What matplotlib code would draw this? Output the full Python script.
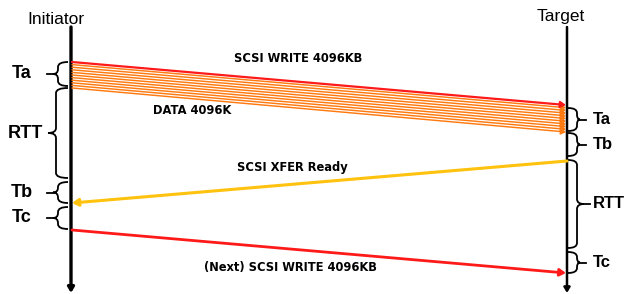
import numpy as np
import matplotlib.pyplot as plt
from matplotlib.path import Path
from matplotlib.patches import PathPatch

# timeline positions are in pixel units of the 625x294 picture (y grows downward)
lanes = ["Initiator", "Target"]
lane_x = [71, 567]

# burst of write + data frames: initiator y -> target y
burst_start = [62.0, 64.6, 67.2, 69.8, 72.4, 75.0, 77.6, 80.2, 82.8, 85.4, 88.0]
burst_end = [105.0, 107.7, 110.4, 113.1, 115.8, 118.5, 121.2, 123.9, 126.6, 129.3, 132.0]

# single messages: (label, from lane, y_from, to lane, y_to)
msg_labels = ["SCSI XFER Ready", "(Next) SCSI WRITE 4096KB"]
msg_from_y = [161, 230]
msg_to_y = [203, 273]
msg_colors = ["#FFC20E", "#FF1A1A"]

# interval braces on each side (label, y0, y1)
left_spans = [("Ta", 62, 86), ("RTT", 88, 178), ("Tb", 182, 203), ("Tc", 207, 229)]
right_spans = [("Ta", 108, 131), ("Tb", 133, 156), ("RTT", 160, 248), ("Tc", 252, 273)]

fig = plt.figure(figsize=(6.25, 2.94), dpi=100)
ax = fig.add_axes([0, 0, 1, 1])
ax.set_xlim(0, 625)
ax.set_ylim(294, 0)
ax.axis("off")


def arrow(x0, y0, x1, y1, color, lw, head=0.35):
    ax.annotate("", xy=(x1, y1), xytext=(x0, y0),
                arrowprops=dict(arrowstyle=f"-|>,head_length={head},head_width={head*0.6}",
                                color=color, lw=lw, shrinkA=0, shrinkB=0))


def brace(x_end, x_spine, x_tip, y0, y1, tick=0):
    r = min(5, (y1 - y0) / 4)
    ym = (y0 + y1) / 2
    verts = [(x_end, y0), (x_spine, y0), (x_spine, y0 + r),
             (x_spine, ym - r), (x_spine, ym), (x_tip, ym),
             (x_spine, ym), (x_spine, ym + r),
             (x_spine, y1 - r), (x_spine, y1), (x_end, y1)]
    codes = [Path.MOVETO, Path.CURVE3, Path.CURVE3,
             Path.LINETO, Path.CURVE3, Path.CURVE3,
             Path.CURVE3, Path.CURVE3,
             Path.LINETO, Path.CURVE3, Path.CURVE3]
    ax.add_patch(PathPatch(Path(verts, codes), fill=False, lw=1.3, color="black"))
    if tick:
        ax.plot([x_tip, x_tip + tick], [ym, ym], color="black", lw=1.3)


# lanes
for name, x in zip(lanes, lane_x):
    arrow(x, 27, x, 293, "black", 2.4 if x < 300 else 1.8, head=0.3)
ax.text(56, 20, lanes[0], ha="center", va="center",
        fontsize=12.5, family="Liberation Sans")
ax.text(561, 16, lanes[1], ha="center", va="center",
        fontsize=12.5, family="Liberation Sans")

# write burst (orange first so the red write line sits on top)
for i in range(len(burst_start) - 1, -1, -1):
    y0, y1 = burst_start[i], burst_end[i]
    if i == 0:
        arrow(lane_x[0] + 1, y0, lane_x[1] - 1, y1, "#FF1A1A", 1.6, head=0.3)
    else:
        arrow(lane_x[0] + 1, y0, lane_x[1] - 1, y1, "#FF7A10", 1.05, head=0.3)
ax.text(298, 58, "SCSI WRITE 4096KB", ha="center", va="center",
        fontsize=8.3, fontweight="bold", family="DejaVu Sans")
ax.text(192, 110, "DATA 4096K", ha="center", va="center",
        fontsize=8.3, fontweight="bold", family="DejaVu Sans")

# xfer ready (target -> initiator), next write (initiator -> target)
arrow(lane_x[1], msg_from_y[0], lane_x[0] + 1, msg_to_y[0], msg_colors[0], 2.2, head=0.35)
arrow(lane_x[0] + 1, msg_from_y[1], lane_x[1] - 1, msg_to_y[1], msg_colors[1], 2.0, head=0.35)
ax.text(292, 168, msg_labels[0], ha="center", va="center",
        fontsize=8.3, fontweight="bold", family="DejaVu Sans")
ax.text(290, 267, msg_labels[1], ha="center", va="center",
        fontsize=8.3, fontweight="bold", family="DejaVu Sans")

# braces and interval labels
for label, y0, y1 in left_spans:
    big = label == "RTT"
    brace(68, 56 if big else 58, 48 if big else 53, y0, y1, tick=0 if big else -6)
    ax.text(43 if big else 22, (y0 + y1) / 2, label, ha="right" if big else "center",
            va="center", fontsize=13, fontweight="bold", family="Liberation Sans")
for label, y0, y1 in right_spans:
    big = label == "RTT"
    brace(568, 577, 584 if big else 580, y0, y1, tick=6)
    ax.text(593, (y0 + y1) / 2, label, ha="left", va="center",
            fontsize=12, fontweight="bold", family="Liberation Sans")

fig.savefig("out.png", dpi=100)
